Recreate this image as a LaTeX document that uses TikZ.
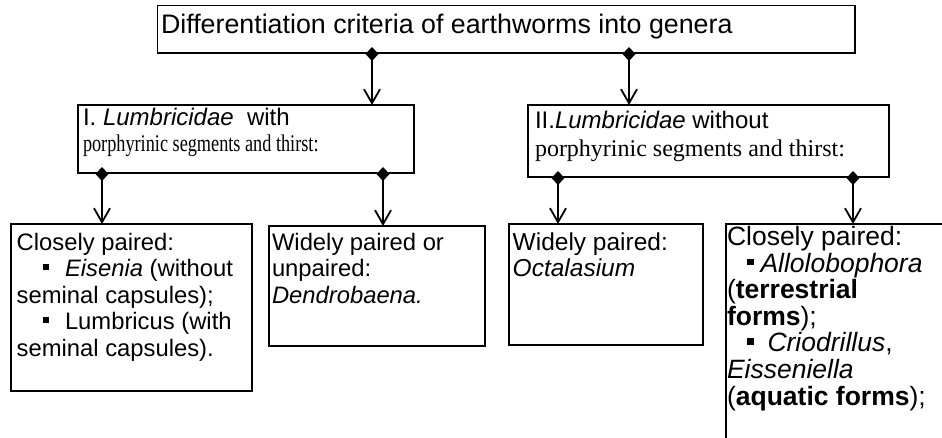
\documentclass[tikz,border=0pt]{standalone}
\usepackage{fontspec}
\setmainfont{Liberation Sans}
\newfontfamily\tms{Liberation Serif}
\usetikzlibrary{arrows.meta}
\tikzset{
  box/.style={draw, line width=1.8pt, rectangle, inner sep=0pt, outer sep=0pt, anchor=north west},
  txt/.style={inner sep=0pt, outer sep=0pt, anchor=base west},
  conn/.style={line width=1.8pt, {Diamond[length=14pt,width=13pt]}-{Straight Barb[length=14pt,width=16pt]}},
}
\newcommand{\bul}[1]{\rule[7pt]{#1}{#1}}
\begin{document}
\begin{tikzpicture}[x=1pt,y=-1pt]
\useasboundingbox (0,0) rectangle (942,437);
\fill[white] (0,0) rectangle (942,437);
\clip (0,0) rectangle (942,437);
% boxes
\node[box, minimum width=697.5pt, minimum height=47.5pt] (top) at (157.5,5.5) {};
\node[box, minimum width=336pt, minimum height=68pt] (b1) at (78,105) {};
\node[box, minimum width=361pt, minimum height=72pt] (b2) at (528,105) {};
\node[box, minimum width=241.3pt, minimum height=167pt] (c1) at (10.7,224) {};
\node[box, minimum width=216pt, minimum height=120pt] (c2) at (269,226) {};
\node[box, minimum width=194pt, minimum height=121pt] (c3) at (509,224) {};
\node[box, minimum width=240pt, minimum height=240pt] (c4) at (726,224) {};
% texts
\node[txt] (ttop) at (161,33) {\fontsize{26.8}{30}\selectfont Differentiation criteria of earthworms into genera};
\node[txt] (tb1) at (83,125) {\fontsize{24}{26.7}\selectfont\parbox[t]{330pt}{I. \textit{Lumbricidae}\ \ with\\
\scalebox{0.76}[1]{\tms porphyrinic segments and thirst:}}};
\node[txt] (tb2) at (535,128.3) {\fontsize{24}{28.4}\selectfont\parbox[t]{350pt}{II.\textit{Lumbricidae} without\\
{\tms porphyrinic segments and thirst:}}};
\node[txt] (tc1) at (16.7,250) {\fontsize{23.8}{26.6}\selectfont\parbox[t]{240pt}{Closely paired:\\
\hspace*{26.3pt}\bul{6pt}\hspace{16pt}\textit{Eisenia} (without\\
seminal capsules);\\
\hspace*{26.3pt}\bul{6pt}\hspace{16pt}Lumbricus (with\\
seminal capsules).}};
\node[txt] (tc2) at (272,250) {\fontsize{23.8}{26.6}\selectfont\parbox[t]{215pt}{Widely paired or\\
unpaired:\\
\textit{Dendrobaena.}}};
\node[txt] (tc3) at (512.7,250) {\fontsize{24.5}{26.6}\selectfont\parbox[t]{190pt}{Widely paired:\\
\textit{Octalasium}}};
\node[txt] (tc4) at (727,245.5) {\fontsize{26.5}{26.6}\selectfont\parbox[t]{300pt}{Closely paired:\\
\hspace*{20pt}\bul{6.5pt}\hspace{7pt}\textit{Allolobophora}\\
(\textbf{terrestrial}\\
\textbf{forms});\\
\hspace*{20pt}\bul{6.5pt}\hspace{14pt}\textit{Criodrillus},\\
\textit{Eisseniella}\\
(\textbf{aquatic forms});}};
% connectors
\draw[conn] ([xshift=-134.25pt,yshift=6pt]top.south) -- ([xshift=-134.25pt]top.south |- b1.north);
\draw[conn] ([xshift=122.75pt,yshift=6pt]top.south) -- ([xshift=122.75pt]top.south |- b2.north);
\draw[conn] ([xshift=24pt,yshift=6pt]b1.south west) -- ([xshift=24pt]b1.south west |- c1.north);
\draw[conn] ([xshift=-31pt,yshift=6pt]b1.south east) -- ([xshift=-31pt]b1.south east |- c2.north);
\draw[conn] ([xshift=30pt,yshift=6pt]b2.south west) -- ([xshift=30pt]b2.south west |- c3.north);
\draw[conn] ([xshift=-36pt,yshift=6pt]b2.south east) -- ([xshift=-36pt]b2.south east |- c4.north);
\end{tikzpicture}
\end{document}
